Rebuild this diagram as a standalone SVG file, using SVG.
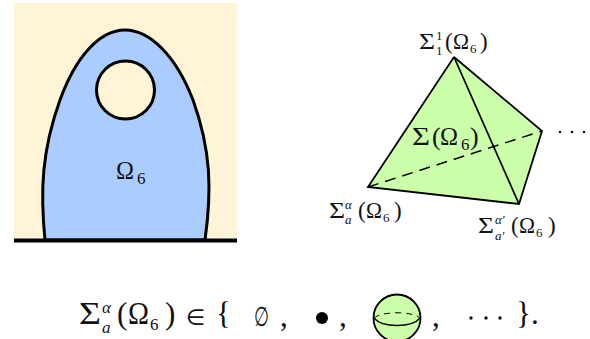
<svg xmlns="http://www.w3.org/2000/svg" width="590" height="339" viewBox="0 0 590 339">
<style>
text{font-family:"Liberation Serif","DejaVu Serif",serif;fill:#111}
.i{font-style:italic}
.d{font-family:"DejaVu Sans","Liberation Sans",sans-serif}
.e{stroke:#000;fill:none}
.a{font-size:23px}
.b{font-size:13px}
.c{font-size:31px}
.f{font-size:17px}
</style>
<rect width="590" height="339" fill="#fff"/>
<g id="region">
<rect x="14" y="3" width="223" height="238" fill="#fff4d6"/>
<path d="M45 240C40 190 42 150 60 100C76 56 100 30 125 30C150 30 176 56 193 100C211 150 212 190 205 240Z" fill="#aaccff" stroke="#000" stroke-width="3"/>
<circle cx="125.500" cy="90" r="29" fill="#fff4d6" stroke="#000" stroke-width="3"/>
<line x1="14" y1="240.500" x2="237" y2="240.500" stroke="#000" stroke-width="4"/>
<text x="116" y="179" font-size="26" textLength="18" lengthAdjust="spacingAndGlyphs">Ω</text>
<text x="137" y="184" font-size="17">6</text>
</g>
<g id="simplex">
<path d="M454 57L368 187L519 204L542 131Z" fill="#ccffaa"/>
<g id="connectors">
<path class="e" stroke-width="1.800" d="M454 57L368 187L519 204L542 131L454 57L519 204"/>
<path class="e" stroke-width="1.500" stroke-dasharray="11 7" d="M368 187L542 131"/>
</g>
<text x="412" y="145" font-size="26" textLength="18" lengthAdjust="spacingAndGlyphs">Σ</text>
<text x="432" y="145" font-size="26">(</text>
<text x="440" y="145" font-size="26" textLength="18" lengthAdjust="spacingAndGlyphs">Ω</text>
<text x="461" y="150" font-size="17">6</text>
<text x="470" y="145" font-size="26">)</text>
<circle cx="560" cy="132" r="1.300" fill="#111"/><circle cx="572" cy="132" r="1.300" fill="#111"/><circle cx="584" cy="132" r="1.300" fill="#111"/>
</g>
<g id="label-top">
<text class="a" x="419" y="49" textLength="16" lengthAdjust="spacingAndGlyphs">Σ</text>
<text class="b" x="436" y="40">1</text>
<text class="b" x="436" y="55">1</text>
<text class="a" x="445" y="49">(</text>
<text class="a" x="453" y="49" textLength="16" lengthAdjust="spacingAndGlyphs">Ω</text>
<text class="b" x="470" y="53">6</text>
<text class="a" x="480" y="49">)</text>
</g>
<g id="label-left">
<text class="a" x="329" y="218" textLength="16" lengthAdjust="spacingAndGlyphs">Σ</text>
<text class="b i" x="345" y="209">α</text>
<text class="b i" x="345" y="224">a</text>
<text class="a" x="358" y="218">(</text>
<text class="a" x="366" y="218" textLength="16" lengthAdjust="spacingAndGlyphs">Ω</text>
<text class="b" x="383" y="222">6</text>
<text class="a" x="394" y="218">)</text>
</g>
<g id="label-right">
<text class="a" x="478" y="233" textLength="16" lengthAdjust="spacingAndGlyphs">Σ</text>
<text class="b i" x="495" y="224">α′</text>
<text class="b i" x="495" y="240">a′</text>
<text class="a" x="511" y="233">(</text>
<text class="a" x="519" y="233" textLength="16" lengthAdjust="spacingAndGlyphs">Ω</text>
<text class="b" x="536" y="237">6</text>
<text class="a" x="548" y="233">)</text>
</g>
<g id="formula">
<text class="c" x="79" y="324" textLength="22" lengthAdjust="spacingAndGlyphs">Σ</text>
<text class="f i" x="102" y="313">α</text>
<text class="f i" x="102" y="333">a</text>
<text class="c" x="117" y="324">(</text>
<text class="c" x="128" y="324" textLength="21" lengthAdjust="spacingAndGlyphs">Ω</text>
<text class="f" x="150" y="330">6</text>
<text class="c" x="165" y="324">)</text>
<text class="d" x="186" y="325" font-size="22">∈</text>
<text class="c" x="216" y="324">{</text>
<text class="d" x="254" y="326" font-size="27" textLength="15" lengthAdjust="spacingAndGlyphs">∅</text>
<text class="c" x="280" y="326">,</text>
<circle cx="322" cy="318" r="6" fill="#000"/>
<text class="c" x="339" y="326">,</text>
<circle cx="397" cy="318" r="23.500" fill="#ccffaa" stroke="#000" stroke-width="1.800"/>
<path class="e" stroke-width="1.300" d="M374 318C382 328 412 328 420 318"/>
<path class="e" stroke-width="1" stroke-dasharray="6 5" d="M374 318C382 311 412 311 420 318"/>
<text class="c" x="432" y="326">,</text>
<circle cx="471" cy="318" r="1.700" fill="#111"/><circle cx="486" cy="318" r="1.700" fill="#111"/><circle cx="500" cy="318" r="1.700" fill="#111"/>
<text class="c" x="516" y="324">}.</text>
</g>
</svg>
